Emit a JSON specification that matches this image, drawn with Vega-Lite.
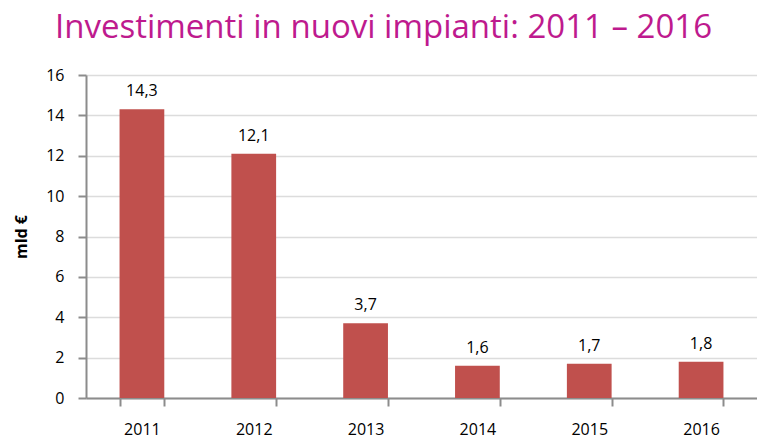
{
  "$schema": "https://vega.github.io/schema/vega-lite/v6.json",
  "autosize": {"type": "none"},
  "padding": {"left": 86, "top": 75, "right": 0, "bottom": 41},
  "width": 671,
  "height": 323,
  "background": "white",
  "config": {
    "locale": {"number": {"decimal": ",", "thousands": ".", "grouping": [3], "currency": ["", " €"]}},
    "view": {"stroke": null},
    "font": "Open Sans"
  },
  "title": {
    "text": "Investimenti in nuovi impianti: 2011 – 2016",
    "fontSize": 33,
    "font": "Open Sans",
    "fontWeight": "normal",
    "color": "#BE1A8E",
    "anchor": "middle",
    "dx": -38,
    "offset": 22
  },
  "data": {
    "values": [
      {"anno": "2011", "valore": 14.3},
      {"anno": "2012", "valore": 12.1},
      {"anno": "2013", "valore": 3.7},
      {"anno": "2014", "valore": 1.6},
      {"anno": "2015", "valore": 1.7},
      {"anno": "2016", "valore": 1.8}
    ]
  },
  "encoding": {
    "x": {
      "field": "anno",
      "type": "nominal",
      "scale": {"paddingInner": 0.6, "paddingOuter": 0.3},
      "axis": {
        "title": null,
        "labelAngle": 0,
        "labelFontSize": 16,
        "labelColor": "#000000",
        "labelPadding": 15,
        "tickBand": "extent",
        "tickSize": 8,
        "tickColor": "#8c8c8c",
        "tickWidth": 2,
        "domainColor": "#8c8c8c",
        "domainWidth": 2
      }
    },
    "y": {
      "field": "valore",
      "type": "quantitative",
      "scale": {"domain": [0, 16]},
      "axis": {
        "title": "mld €",
        "titleFontSize": 16,
        "titleFontWeight": "bold",
        "titleColor": "#000000",
        "titlePadding": 16,
        "values": [0, 2, 4, 6, 8, 10, 12, 14, 16],
        "labelFontSize": 16,
        "labelColor": "#000000",
        "labelPadding": 14,
        "tickSize": 8,
        "tickColor": "#8c8c8c",
        "tickWidth": 2,
        "domainColor": "#8c8c8c",
        "domainWidth": 2,
        "gridColor": "#dcdcdc",
        "gridWidth": 1.5
      }
    }
  },
  "layer": [
    {"mark": {"type": "bar", "color": "#C0504D"}},
    {
      "mark": {"type": "text", "baseline": "bottom", "dy": -10, "fontSize": 16, "color": "#000000"},
      "encoding": {"text": {"field": "valore", "type": "quantitative", "format": ".1f"}}
    }
  ]
}
